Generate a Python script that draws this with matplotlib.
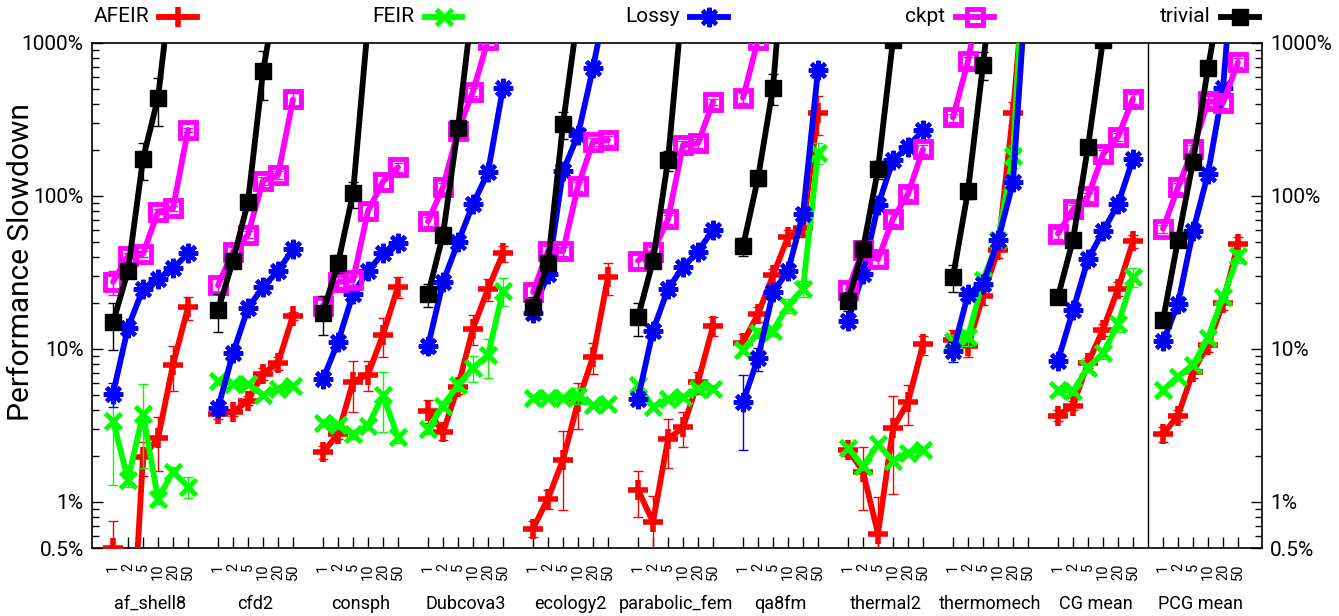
import numpy as np
import matplotlib
matplotlib.use("Agg")
import matplotlib.pyplot as plt
from matplotlib.lines import Line2D
from matplotlib.ticker import FixedLocator, NullFormatter

plt.rcParams['font.family'] = ['Roboto', 'DejaVu Sans']

groups = ['af_shell8', 'cfd2', 'consph', 'Dubcova3', 'ecology2', 'parabolic_fem',
          'qa8fm', 'thermal2', 'thermomech', 'CG mean', 'PCG mean']
xvals = ['1', '2', '5', '10', '20', '50']

# slowdown in %, one row per group, one column per x value
afeir = [[0.5, 0.04, 1.97, 2.6, 7.9, 18.7],
         [3.77, 3.87, 4.6, 6.9, 8.1, 16.5],
         [2.12, 2.77, 6.1, 6.8, 12.4, 25.6],
         [3.96, 2.85, 5.66, 13.6, 24.7, 42.2],
         [0.67, 1.05, 1.89, 4.5, 8.9, 29.6],
         [1.20, 0.74, 2.57, 3.07, 6.1, 14.1],
         [11.0, 16.9, 30.3, 53.9, 62, 349],
         [2.2, 1.58, 0.62, 3.03, 4.5, 10.7],
         [11.4, 10.4, 22.3, 44.5, 349, 5000],
         [3.67, 4.27, 8.1, 13.4, 24.7, 50.5],
         [2.77, 3.67, 7.1, 10.6, 19.9, 48.7]]
afeir_err = [[0.25, 0.01, 0.5, 1.0, 2.6, 3.3],
             [0.3, 0.2, 0.3, 0.6, 0.8, 1.0],
             [0.2, 0.2, 2.2, 1.5, 3.5, 4],
             [0.7, 0.3, 0.6, 3, 4, 5],
             [0.08, 0.15, 1.0, 1.5, 2, 7],
             [0.4, 0.35, 0.9, 0.8, 1.0, 2],
             [1.5, 2, 3, 6, 8, 100],
             [0.2, 0.7, 0.45, 1.9, 1.3, 1.5],
             [2, 1.5, 3, 5, 60, 0],
             [0.3, 0.3, 0.6, 1.2, 2.5, 5],
             [0.3, 0.3, 0.6, 1, 2, 5]]

feir = [[3.4, 1.40, 3.77, 1.05, 1.58, 1.26],
        [6.2, 5.9, 5.9, 5.0, 5.5, 5.7],
        [3.3, 3.2, 2.77, 3.15, 4.98, 2.64],
        [2.99, 4.27, 5.8, 7.55, 9.08, 24.1],
        [4.8, 4.8, 4.8, 4.95, 4.3, 4.4],
        [5.8, 4.17, 4.73, 4.84, 5.5, 5.5],
        [9.9, 12.8, 13.2, 19.2, 24.7, 192],
        [2.26, 1.71, 2.38, 1.85, 2.1, 2.2],
        [11.3, 11.9, 28.1, 51.7, 183, 10000],
        [5.37, 5.3, 7.55, 9.4, 14.5, 29.6],
        [5.37, 6.6, 7.87, 11.8, 21.8, 40.5]]
feir_err = [[2.1, 0.15, 2.1, 0.08, 0.1, 0.2],
            [0.2, 0.2, 0.2, 0.2, 0.2, 0.2],
            [0.2, 0.2, 0.2, 0.2, 2.1, 0.2],
            [0.2, 0.3, 0.5, 1.5, 2.6, 5],
            [0.2, 0.2, 0.2, 0.6, 0.2, 0.2],
            [0.3, 0.2, 0.2, 0.2, 0.3, 0.3],
            [0.5, 1, 1, 2, 3, 30],
            [0.1, 0.1, 0.1, 0.1, 0.1, 0.1],
            [1, 1.5, 3, 5, 30, 0],
            [0.3, 0.3, 0.5, 0.8, 1.5, 4],
            [0.3, 0.3, 0.4, 0.8, 1.5, 4]]

lossy = [[5.1, 13.8, 24.7, 28.8, 33.6, 42.2],
         [4.1, 9.4, 18.5, 25.4, 32.4, 44.9],
         [6.36, 11.1, 22.9, 32.4, 42.2, 49.2],
         [10.4, 27.4, 49.7, 88.3, 143, 511],
         [17.3, 31.1, 145, 251, 686, 2150],
         [4.73, 13.2, 24.7, 34.4, 43.3, 60.3],
         [4.5, 8.7, 23.5, 32.4, 75.8, 666],
         [15.3, 31.1, 86.9, 171, 210, 270],
         [9.66, 22.7, 26.4, 51.2, 123, 3600],
         [8.4, 17.9, 38.5, 58.8, 88.3, 175],
         [11.2, 19.7, 58.8, 140, 506, 8000]]
lossy_err = [[0.9, 1, 1, 1, 1, 2],
             [0.4, 0.5, 1, 1, 1, 2],
             [0.5, 0.8, 1, 1, 1, 2],
             [1, 1, 2, 3, 5, 20],
             [1.5, 2, 5, 10, 30, 0],
             [0.4, 0.8, 1, 1, 1, 2],
             [2.3, 1.5, 1, 2, 5, 30],
             [1, 1, 3, 5, 5, 10],
             [1.5, 1, 1, 2, 5, 0],
             [0.5, 1, 1, 2, 3, 8],
             [0.6, 1, 2, 5, 20, 0]]

ckpt = [[27.4, 40.5, 41.9, 78.9, 82.9, 270],
        [26, 43.3, 55.9, 126, 137, 428],
        [19.2, 27.4, 28.1, 79.8, 124, 154],
        [68.4, 113.8, 266, 481, 1050, 2500],
        [23.5, 44, 43.5, 116, 226, 232],
        [37.8, 43.3, 70.2, 215, 221, 412],
        [438, 1050, 2500, 6000, 12000, 25000],
        [24.4, 44.5, 38.5, 71, 103, 202],
        [326, 760, 2500, 6000, 15000, 30000],
        [56.7, 81.8, 99.3, 187, 244, 432],
        [61, 114, 202, 417, 406, 748]]
ckpt_err = [[5, 2, 2, 3, 3, 10],
            [3, 3, 3, 8, 8, 40],
            [3, 2, 2, 8, 15, 10],
            [5, 8, 15, 30, 0, 0],
            [3, 3, 3, 8, 15, 15],
            [5, 3, 5, 15, 15, 20],
            [30, 0, 0, 0, 0, 0],
            [2, 3, 3, 5, 8, 15],
            [20, 50, 0, 0, 0, 0],
            [4, 5, 6, 12, 15, 30],
            [4, 8, 15, 30, 30, 50]]

trivial = [[14.9, 32.4, 175, 438, 3000, 8000],
           [17.9, 37.8, 91.5, 652, 2400, 6000],
           [17.3, 36.2, 104, 1350, 4000, 10000],
           [22.7, 55.9, 280, 1900, 5000, 12000],
           [18.7, 36.2, 295, 1560, 4000, 10000],
           [16.1, 37.8, 171, 2000, 5000, 12000],
           [46.8, 131, 511, 8000, 20000, 50000],
           [20.7, 44.9, 149, 1050, 3000, 8000],
           [29.6, 108, 723, 5000, 15000, 40000],
           [22, 51.7, 210, 1050, 3000, 8000],
           [15.4, 51.7, 167, 686, 2500, 6000]]
trivial_err = [[5, 3, 48, 150, 0, 0],
               [5, 4, 10, 230, 0, 0],
               [5, 5, 20, 0, 0, 0],
               [4, 7, 25, 0, 0, 0],
               [3, 3, 60, 0, 0, 0],
               [4, 4, 25, 0, 0, 0],
               [6, 15, 120, 0, 0, 0],
               [3, 5, 20, 0, 0, 0],
               [6, 12, 150, 0, 0, 0],
               [2, 4, 15, 0, 0, 0],
               [1.5, 4, 15, 60, 0, 0]]

series = [  # name, values, errors, color, marker, size, face, edge width
    ('AFEIR', afeir, afeir_err, '#ff0000', '+', 14, '#ff0000', 4),
    ('FEIR', feir, feir_err, '#00ff00', 'x', 12, '#00ff00', 3.5),
    ('Lossy', lossy, lossy_err, '#0000ff', (8, 2, 0), 14, '#0000ff', 3),
    ('ckpt', ckpt, ckpt_err, '#ff00ff', 's', 12, 'none', 3.5),
    ('trivial', trivial, trivial_err, '#000000', 's', 11, '#000000', 1),
]

W, H = 1339, 616
fig = plt.figure(figsize=(W / 100, H / 100), dpi=100)
ax = fig.add_axes([92 / W, 1 - 548 / H, (1262 - 92) / W, (548 - 43) / H])

step = len(xvals) + 1
for k, (name, vals, errs, col, mk, ms, fc, mw) in enumerate(series):
    for g in range(len(groups)):
        xs = np.arange(len(xvals)) + step * g
        v = np.array(vals[g], dtype=float)
        e = np.array(errs[g], dtype=float)
        lo = np.minimum(e, v * 0.95)
        ax.errorbar(xs, v, yerr=[lo, e], fmt='none', ecolor=col, elinewidth=1,
                    capsize=3.6, capthick=1, zorder=3 + 2 * k)
        ax.plot(xs, v, color=col, lw=4.2, marker=mk, ms=ms, mew=mw, mfc=fc,
                mec=col, solid_capstyle='round', zorder=4 + 2 * k)

ax.set_yscale('log')
ax.set_ylim(0.5, 1000)
ax.set_xlim(-1.4, 76.6)
ax.axvline(step * (len(groups) - 1) - 1, color='black', lw=1, zorder=2)

yt = [0.5, 1, 10, 100, 1000]
ax.set_yticks(yt)
ax.set_yticklabels(['0.5%', '1%', '10%', '100%', '1000%'])
minors = [m * 10.0 ** d for d in range(-1, 3) for m in range(2, 10)]
ax.yaxis.set_minor_locator(FixedLocator([m for m in minors if 0.5 < m < 1000]))
ax.yaxis.set_minor_formatter(NullFormatter())
ax.tick_params(axis='y', which='major', direction='in', length=8, width=1,
               right=True, labelright=True, labelsize=15, pad=6)
ax.tick_params(axis='y', which='minor', direction='in', length=5, width=1, right=True)

xt = [step * g + i for g in range(len(groups)) for i in range(len(xvals))]
ax.set_xticks(xt)
ax.set_xticklabels(xvals * len(groups), rotation=90)
ax.tick_params(axis='x', direction='in', length=8, width=1, labelsize=10.5, pad=11)
ax.xaxis.set_minor_locator(FixedLocator([]))
for sp in ax.spines.values():
    sp.set_linewidth(1.2)

for g, name in enumerate(groups):
    ax.text(step * g + 2.5, -56 / 505, name, transform=ax.get_xaxis_transform(),
            ha='center', va='center', fontsize=13)

fig.text(21 / W, 1 - 262 / H, 'Performance Slowdown', rotation=90,
         ha='center', va='center', fontsize=21.5)

# legend along the top: label then a line sample
ly = 1 - 17 / H
for i, (name, vals, errs, col, mk, ms, fc, mw) in enumerate(series):
    cx = 178 + 265.5 * i
    fig.add_artist(Line2D([(cx - 19) / W, (cx + 19) / W], [ly, ly], color=col,
                          lw=4.2, transform=fig.transFigure))
    fig.add_artist(Line2D([cx / W], [ly], color=col, marker=mk, ms=ms, mew=mw,
                          mfc=fc, mec=col, transform=fig.transFigure))
    fig.text((cx - 29) / W, ly, name, ha='right', va='center', fontsize=15)

fig.savefig('out.png', dpi=100)
